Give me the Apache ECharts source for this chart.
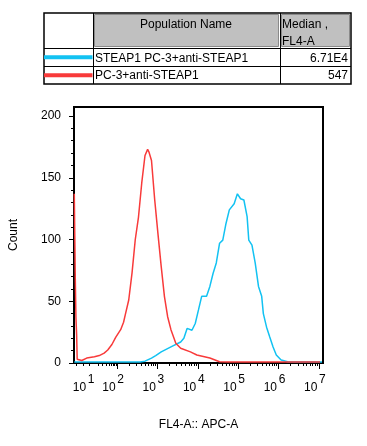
<!DOCTYPE html>
<html>
<head>
<meta charset="utf-8">
<script src="https://cdn.jsdelivr.net/npm/echarts@6/dist/echarts.min.js"></script>
<style>
  html, body { margin: 0; padding: 0; background: #fff; }
  #chart { width: 367px; height: 446px; }
</style>
</head>
<body>
<div id="chart"></div>
<script>
// ---- Data (x in display decades: log10 of FL4-A intensity, biexponential below 10^2) ----
const redName = 'PC-3+anti-STEAP1';
const blueName = 'STEAP1 PC-3+anti-STEAP1';
const redMedian = '547';
const blueMedian = '6.71E4';

const redX = [0.940, 0.957, 0.964, 0.976, 0.981, 0.998, 1.012, 1.125, 1.248, 1.439, 1.559, 1.680, 1.769, 1.872, 1.969,
  2.089, 2.161, 2.210, 2.289, 2.371, 2.451, 2.530, 2.612, 2.692, 2.757, 2.788, 2.853, 2.933, 3.012, 3.094, 3.173,
  3.253, 3.335, 3.455, 3.576, 3.817, 3.976, 4.299, 4.540, 4.740, 7.029];
const redY = [137, 137, 70, 70, 37, 23, 3, 2, 4, 5, 6, 8, 10.5, 15, 21,
  27, 33, 40, 51, 73, 100, 118, 146, 168, 173, 171, 164, 132, 105, 78, 54,
  37.5, 27, 16, 12, 9, 6.5, 4, 1, 0.8, 0.8];

const blueX = [0.940, 2.571, 2.692, 2.853, 2.957, 3.094, 3.335, 3.576, 3.655, 3.735, 3.855, 3.937, 4.017, 4.096,
  4.217, 4.299, 4.378, 4.458, 4.540, 4.619, 4.699, 4.781, 4.901, 4.981, 5.060, 5.142, 5.222, 5.263, 5.342,
  5.422, 5.504, 5.583, 5.624, 5.704, 5.783, 5.865, 5.945, 6.065, 6.227, 6.427, 7.077];
const blueY = [0.8, 0.8, 1.5, 4, 6, 9, 13, 17, 20, 28, 26.5, 32, 43, 54,
  54, 62, 72.5, 81, 97, 99.5, 113, 124, 129, 137, 133, 132, 118.5, 99.5, 95.5,
  81, 62, 54, 40, 29, 21, 13, 6.5, 2.4, 1, 0.8, 0.8];

const xLabelPos = [1.27, 2, 3, 4, 5, 6, 7];
const xLabelExp = ['1', '2', '3', '4', '5', '6', '7'];
const xMajorTicks = [2, 3, 4, 5, 6, 7];
const yTickValues = [0, 50, 100, 150, 200];

// ---- Tick layout helpers ----
const xMinorTicks = [];
[1.0, 1.15].forEach(v => xMinorTicks.push(v));
for (let k = 2; k <= 9; k++) xMinorTicks.push(1.32 + 0.68 * Math.log10(k));
for (let d = 2; d <= 6; d++) for (let k = 2; k <= 9; k++) xMinorTicks.push(d + Math.log10(k));
xMinorTicks.push(1.32);
const yMinorTicks = [];
for (let v = 10; v < 200; v += 10) if (v % 50 !== 0) yMinorTicks.push(v);

const BLUE = '#12c2f2';
const RED = '#f83a3a';
const FONT = 'Liberation Sans, Arial, sans-serif';
const XMIN = 0.933, XMAX = 7.102, YMAX = 207.3;

const zip = (xs, ys) => xs.map((x, i) => [x, ys[i]]);

const chart = echarts.init(document.getElementById('chart'));
chart.setOption({
  animation: false,
  backgroundColor: '#fff',
  textStyle: { fontFamily: FONT },
  grid: { left: 67, top: 107, width: 256, height: 256, show: true, borderColor: '#000', borderWidth: 2, backgroundColor: 'transparent' },
  xAxis: [{
    type: 'value', min: XMIN, max: XMAX,
    name: 'FL4-A:: APC-A', nameLocation: 'middle', nameGap: 56,
    nameTextStyle: { fontSize: 12, color: '#000', fontFamily: FONT },
    axisLine: { show: true, lineStyle: { color: '#000', width: 2 } },
    axisTick: { show: true, inside: false, length: 3, customValues: xMinorTicks, lineStyle: { color: '#000', width: 1 } },
    splitLine: { show: false },
    axisLabel: {
      show: true, customValues: xLabelPos, margin: 11, padding: [0, 8, 0, 0],
      formatter: function (v) {
        let i = 0;
        xLabelPos.forEach((p, j) => { if (Math.abs(p - v) < 1e-6) i = j; });
        return '{b|10}{s| }{e|' + xLabelExp[i] + '}';
      },
      rich: {
        b: { fontSize: 12, fontFamily: FONT, color: '#000', lineHeight: 12, verticalAlign: 'bottom' },
        s: { fontSize: 6, fontFamily: FONT, color: '#000', lineHeight: 20, verticalAlign: 'middle' },
        e: { fontSize: 12, fontFamily: FONT, color: '#000', lineHeight: 12, verticalAlign: 'top' }
      }
    }
  }, {
    type: 'value', min: XMIN, max: XMAX, position: 'bottom',
    axisLine: { show: false },
    axisTick: { show: true, length: 6, customValues: xMajorTicks, lineStyle: { color: '#000', width: 1 } },
    axisLabel: { show: false },
    splitLine: { show: false }
  }],
  yAxis: [{
    type: 'value', min: 0, max: YMAX,
    name: 'Count', nameLocation: 'middle', nameGap: 54,
    nameTextStyle: { fontSize: 12, color: '#000', fontFamily: FONT },
    axisLine: { show: true, lineStyle: { color: '#000', width: 2 } },
    axisTick: { show: true, length: 5, customValues: yTickValues, lineStyle: { color: '#000', width: 1 } },
    axisLabel: { show: true, customValues: yTickValues, margin: 13, fontSize: 12, color: '#000', fontFamily: FONT },
    splitLine: { show: false }
  }, {
    type: 'value', min: 0, max: YMAX, position: 'left',
    axisLine: { show: false },
    axisTick: { show: true, length: 3, customValues: yMinorTicks, lineStyle: { color: '#000', width: 1 } },
    axisLabel: { show: false },
    splitLine: { show: false }
  }],
  series: [{
    name: blueName, type: 'line', xAxisIndex: 0, yAxisIndex: 0,
    data: zip(blueX, blueY), showSymbol: false, symbol: 'none',
    lineStyle: { color: BLUE, width: 1.5 }, z: 2
  }, {
    name: redName, type: 'line', xAxisIndex: 0, yAxisIndex: 0,
    data: zip(redX, redY), showSymbol: false, symbol: 'none',
    lineStyle: { color: RED, width: 1.5 }, z: 3
  }],
  graphic: [
    { type: 'rect', shape: { x: 94.5, y: 14.5, width: 184, height: 32 }, style: { fill: '#c0c0c0', stroke: '#8a8a8a', lineWidth: 1 } },
    { type: 'rect', shape: { x: 281.5, y: 14.5, width: 68, height: 32 }, style: { fill: '#c0c0c0', stroke: '#8a8a8a', lineWidth: 1 } },
    { type: 'line', shape: { x1: 44, y1: 48.5, x2: 351, y2: 48.5 }, style: { stroke: '#000', lineWidth: 1 } },
    { type: 'line', shape: { x1: 44, y1: 66.5, x2: 351, y2: 66.5 }, style: { stroke: '#000', lineWidth: 1 } },
    { type: 'line', shape: { x1: 93.5, y1: 13, x2: 93.5, y2: 84 }, style: { stroke: '#000', lineWidth: 1 } },
    { type: 'line', shape: { x1: 280.5, y1: 13, x2: 280.5, y2: 84 }, style: { stroke: '#000', lineWidth: 1 } },
    { type: 'rect', shape: { x: 44, y: 13, width: 307, height: 71 }, style: { fill: 'none', stroke: '#000', lineWidth: 1.5 } },
    { type: 'line', shape: { x1: 44, y1: 57.3, x2: 92.5, y2: 57.3 }, style: { stroke: BLUE, lineWidth: 4 } },
    { type: 'line', shape: { x1: 44, y1: 75.3, x2: 92.5, y2: 75.3 }, style: { stroke: RED, lineWidth: 4 } },
    { type: 'text', x: 186, y: 24.5, style: { text: 'Population Name', font: '12px ' + FONT, fill: '#000', align: 'center', verticalAlign: 'middle' } },
    { type: 'text', x: 282, y: 24.5, style: { text: 'Median ,', font: '12px ' + FONT, fill: '#000', align: 'left', verticalAlign: 'middle' } },
    { type: 'text', x: 282, y: 42, style: { text: 'FL4-A', font: '12px ' + FONT, fill: '#000', align: 'left', verticalAlign: 'middle' } },
    { type: 'text', x: 95, y: 58.5, style: { text: blueName, font: '12px ' + FONT, fill: '#000', align: 'left', verticalAlign: 'middle' } },
    { type: 'text', x: 348, y: 58.5, style: { text: blueMedian, font: '12px ' + FONT, fill: '#000', align: 'right', verticalAlign: 'middle' } },
    { type: 'text', x: 95, y: 76, style: { text: redName, font: '12px ' + FONT, fill: '#000', align: 'left', verticalAlign: 'middle' } },
    { type: 'text', x: 348, y: 76, style: { text: redMedian, font: '12px ' + FONT, fill: '#000', align: 'right', verticalAlign: 'middle' } }
  ]
});
</script>
</body>
</html>
